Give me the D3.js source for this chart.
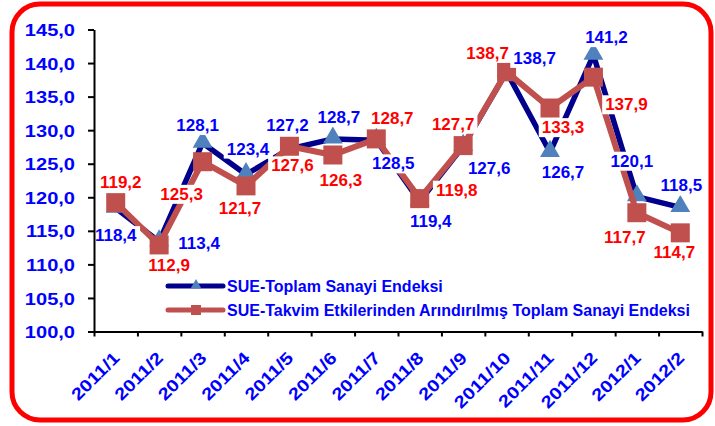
<!DOCTYPE html>
<html lang="en">
<head>
<meta charset="utf-8">
<title>SUE</title>
<script src="https://cdn.jsdelivr.net/npm/d3@7"></script>
<style>
  body { margin: 0; background: #fff; }
  text { font-family: "Liberation Sans", Arial, sans-serif; font-weight: bold; }
</style>
</head>
<body>
<script>
// data
var months = ["2011/1","2011/2","2011/3","2011/4","2011/5","2011/6","2011/7",
              "2011/8","2011/9","2011/10","2011/11","2011/12","2012/1","2012/2"];
var toplam = [118.4,113.4,128.1,123.4,127.2,128.7,128.5,119.4,127.6,138.7,126.7,141.2,120.1,118.5];
var takvim = [119.2,112.9,125.3,121.7,127.6,126.3,128.7,119.8,127.7,138.7,133.3,137.9,117.7,114.7];
var yTicks = [100,105,110,115,120,125,130,135,140,145];
var seriesNames = ["SUE-Toplam Sanayi Endeksi",
                   "SUE-Takvim Etkilerinden Arındırılmış Toplam Sanayi Endeksi"];

// label nudges (dx, dy from the point), like the hand-moved labels in the original
var toplamLabelPos = [[0,27],[40,1],[-5,-18],[2,-26],[-2,-24],[6,-22],[17,23],
                      [11,20],[26,22],[28,-14],[13,20],[13,-18],[-5,-36],[1,-22]];
var takvimLabelPos = [[5,-21],[10,20],[-21,32],[-6,22],[3,19],[8,25],[16,-21],
                      [37,-9],[-10,-22],[-19,-19],[13,19],[33,27],[-12,24],[-6,19]];

var W = 715, H = 426;
var fmt = function (v) { return v.toFixed(1).replace(".", ","); };

var svg = d3.select("body").append("svg").attr("width", W).attr("height", H);

// red rounded frame
svg.append("rect")
    .attr("x", 12).attr("y", 4).attr("width", 699).attr("height", 416)
    .attr("rx", 28).attr("ry", 28)
    .attr("fill", "#fff").attr("stroke", "#ff0000").attr("stroke-width", 5);

var x = d3.scaleBand().domain(months).range([94, 702]).padding(0);
var xEdge = d3.scaleLinear().domain([0, months.length]).range([94, 702]);
var y = d3.scaleLinear().domain([100, 145]).range([331.5, 29.5]);
var cx = function (i) { return x(months[i]) + x.bandwidth() / 2; };

var line = d3.line()
    .x(function (d, i) { return cx(i); })
    .y(function (d) { return y(d); });

// blue series
svg.append("path").datum(toplam).attr("d", line)
    .attr("fill", "none").attr("stroke", "#00008c").attr("stroke-width", 5.5)
    .attr("stroke-linejoin", "round");
var tri = d3.symbol().type(d3.symbolTriangle).size(170);
svg.append("g").selectAll("path").data(toplam).enter().append("path")
    .attr("d", tri)
    .attr("transform", function (d, i) { return "translate(" + cx(i) + "," + (y(d) - 1) + ")"; })
    .attr("fill", "#4f81bd");

// red series
svg.append("path").datum(takvim).attr("d", line)
    .attr("fill", "none").attr("stroke", "#c0504d").attr("stroke-width", 6)
    .attr("stroke-linejoin", "round");
svg.append("g").selectAll("rect").data(takvim).enter().append("rect")
    .attr("x", function (d, i) { return cx(i) - 9.5; })
    .attr("y", function (d) { return y(d) - 9.5; })
    .attr("width", 19).attr("height", 19)
    .attr("fill", "#c0504d");

// data labels with white boxes
function addLabels(vals, pos, color) {
    var g = svg.append("g");
    vals.forEach(function (v, i) {
        var lg = g.append("g")
            .attr("transform", "translate(" + (cx(i) + pos[i][0]) + "," + (y(v) + pos[i][1]) + ")");
        var t = lg.append("text")
            .attr("text-anchor", "middle").attr("dy", "0.36em")
            .attr("fill", color).style("font-size", "17px")
            .text(fmt(v));
        var b = t.node().getBBox();
        lg.insert("rect", "text")
            .attr("x", b.x - 3).attr("y", b.y)
            .attr("width", b.width + 6).attr("height", b.height)
            .attr("fill", "#fff");
    });
}
addLabels(toplam, toplamLabelPos, "#0000ff");
addLabels(takvim, takvimLabelPos, "#ff0000");

// y axis (drawn over the label boxes)
var yAxis = svg.append("g").attr("transform", "translate(94,0)")
    .call(d3.axisLeft(y).tickValues(yTicks).tickSize(6).tickSizeOuter(0).tickFormat(fmt));
yAxis.select(".domain").attr("stroke", "#000").attr("stroke-width", 2);
yAxis.selectAll(".tick line").attr("stroke", "#000").attr("stroke-width", 2);
yAxis.selectAll(".tick text")
    .attr("x", 0).attr("dy", "0.36em")
    .attr("transform", "translate(-19,0) scale(1.18,1)")
    .attr("fill", "#0000ff").style("font-size", "17px");

// x axis, ticks on category edges
var xAxis = svg.append("g").attr("transform", "translate(0,331.5)")
    .call(d3.axisBottom(xEdge).tickValues(d3.range(0, months.length + 1))
        .tickSize(5).tickSizeOuter(0).tickFormat(""));
xAxis.select(".domain").attr("stroke", "#000").attr("stroke-width", 2);
xAxis.selectAll(".tick line").attr("stroke", "#000").attr("stroke-width", 2);

svg.append("g").selectAll("text").data(months).enter().append("text")
    .attr("transform", function (d, i) {
        return "translate(" + (cx(i) + 5) + ",359) rotate(-45) scale(1.18,1)";
    })
    .attr("text-anchor", "end")
    .attr("fill", "#0000ff").style("font-size", "17px")
    .text(function (d) { return d; });

// legend
var leg = svg.append("g");
var legRows = [
    { name: seriesNames[0], stroke: "#00008c", y: 286 },
    { name: seriesNames[1], stroke: "#c0504d", y: 310 }
];
legRows.forEach(function (r, i) {
    leg.append("line").attr("x1", 168).attr("x2", 223).attr("y1", r.y).attr("y2", r.y)
        .attr("stroke", r.stroke).attr("stroke-width", 5).attr("stroke-linecap", "round");
    if (i === 0) {
        leg.append("path").attr("d", d3.symbol().type(d3.symbolTriangle).size(45))
            .attr("transform", "translate(196," + (r.y - 1) + ")").attr("fill", "#4f81bd");
    } else {
        leg.append("rect").attr("x", 191).attr("y", r.y - 5).attr("width", 10).attr("height", 10)
            .attr("fill", "#c0504d");
    }
    leg.append("text").attr("x", 227).attr("y", r.y).attr("dy", "0.36em")
        .attr("fill", "#0000ff").style("font-size", "16px")
        .text(r.name);
});
</script>
</body>
</html>
